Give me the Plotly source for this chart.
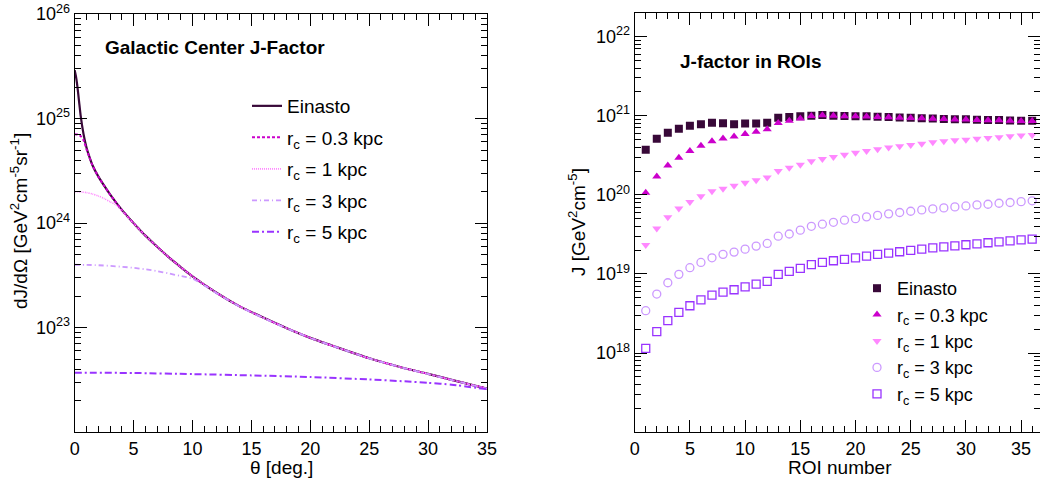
import plotly.graph_objects as go

# ---------------- data: left panel (dJ/dOmega vs theta) ----------------
theta_einasto = [0, 0.1, 0.2, 0.3, 0.4, 0.5, 0.75, 1.0, 1.25, 1.5, 2.0, 2.5, 3.0, 3.5, 4.0,
                 5.0, 6.0, 7.0, 8.0, 9.0, 10, 12, 14, 16, 18, 20, 22, 25, 28, 30, 32, 35]
dj_einasto = [2.9e25, 2.55e25, 2.15e25, 1.72e25, 1.36e25, 1.08e25, 7.1e24, 5.3e24, 4.3e24, 3.6e24,
              2.8e24, 2.28e24, 1.88e24, 1.58e24, 1.34e24, 1.0e24, 7.6e23, 5.95e23, 4.7e23, 3.8e23,
              3.1e23, 2.17e23, 1.6e23, 1.25e23, 9.9e22, 8.0e22, 6.65e22, 5.1e22, 4.1e22,
              3.62e22, 3.17e22, 2.62e22]

theta_rc03 = [0, 0.25, 0.5, 0.75, 1.0, 1.25, 1.5, 2.0, 2.5, 3.0, 3.5, 4.0, 5.0, 6.0, 7.0, 8.0,
              9.0, 10, 12, 14, 16, 18, 20, 22, 25, 28, 30, 32, 35]
dj_rc03 = [7.1e24, 7.05e24, 6.8e24, 6.2e24, 5.1e24, 4.25e24, 3.58e24, 2.79e24, 2.28e24, 1.88e24,
           1.58e24, 1.34e24, 1.0e24, 7.6e23, 5.95e23, 4.7e23, 3.8e23, 3.1e23, 2.17e23, 1.6e23,
           1.25e23, 9.9e22, 8.0e22, 6.65e22, 5.1e22, 4.1e22, 3.62e22, 3.17e22, 2.62e22]

theta_rc1 = [0, 0.5, 1.0, 1.5, 2.0, 2.5, 3.0, 3.5, 4.0, 5.0, 6.0, 7.0, 8.0, 9.0, 10, 12, 14,
             16, 18, 20, 22, 25, 28, 30, 32, 35]
dj_rc1 = [2.0e24, 1.99e24, 1.96e24, 1.9e24, 1.82e24, 1.72e24, 1.6e24, 1.5e24, 1.31e24, 9.9e23,
          7.58e23, 5.94e23, 4.7e23, 3.8e23, 3.1e23, 2.17e23, 1.6e23, 1.25e23, 9.9e22, 8.0e22,
          6.65e22, 5.1e22, 4.1e22, 3.62e22, 3.17e22, 2.62e22]

theta_rc3 = [0, 1, 2, 3, 4, 5, 6, 7, 8, 9, 10, 11, 12, 14, 16, 18, 20, 22, 25, 28, 30, 32, 35]
dj_rc3 = [4.0e23, 3.99e23, 3.96e23, 3.9e23, 3.83e23, 3.74e23, 3.62e23, 3.48e23, 3.3e23, 3.12e23,
          2.95e23, 2.53e23, 2.15e23, 1.59e23, 1.24e23, 9.85e22, 7.97e22, 6.63e22, 5.09e22,
          4.09e22, 3.61e22, 3.16e22, 2.61e22]

theta_rc5 = [0, 5, 10, 15, 20, 25, 28, 30, 32, 35]
dj_rc5 = [3.72e22, 3.69e22, 3.6e22, 3.5e22, 3.38e22, 3.2e22, 3.07e22, 2.97e22, 2.85e22, 2.58e22]

# ---------------- data: right panel (J in ROIs) ----------------
roi = list(range(1, 37))
j_einasto = [3.7e20, 5.1e20, 6.1e20, 6.85e20, 7.45e20, 7.8e20, 8.15e20, 8.0e20, 7.8e20, 7.95e20,
             7.95e20, 8.15e20, 9.4e20, 9.6e20, 9.8e20, 1.0e21, 1.02e21, 1.0e21, 9.9e20, 9.85e20,
             9.8e20, 9.7e20, 9.6e20, 9.5e20, 9.4e20, 9.3e20, 9.2e20, 9.1e20, 9.0e20, 9.0e20,
             8.9e20, 8.8e20, 8.8e20, 8.7e20, 8.6e20, 8.6e20]
j_rc03 = [1.06e20, 1.7e20, 2.35e20, 2.95e20, 3.58e20, 4.17e20, 4.77e20, 5.15e20, 5.45e20, 5.85e20,
          6.25e20, 6.75e20, 8.1e20, 8.6e20, 9.2e20, 9.9e20, 1.01e21, 9.95e20, 9.85e20, 9.8e20,
          9.75e20, 9.65e20, 9.55e20, 9.45e20, 9.35e20, 9.25e20, 9.15e20, 9.05e20, 8.95e20,
          8.95e20, 8.85e20, 8.75e20, 8.75e20, 8.65e20, 8.55e20, 8.55e20]
j_rc1 = [2.33e19, 3.75e19, 5.2e19, 6.7e19, 8.1e19, 9.6e19, 1.11e20, 1.19e20, 1.3e20, 1.42e20,
         1.53e20, 1.65e20, 2.0e20, 2.2e20, 2.4e20, 2.65e20, 2.84e20, 3.0e20, 3.2e20, 3.4e20,
         3.58e20, 3.76e20, 3.95e20, 4.1e20, 4.26e20, 4.43e20, 4.6e20, 4.74e20, 4.88e20, 4.98e20,
         5.13e20, 5.22e20, 5.33e20, 5.48e20, 5.6e20, 5.7e20]
j_rc3 = [3.44e18, 5.58e18, 7.75e18, 9.9e18, 1.2e19, 1.4e19, 1.6e19, 1.77e19, 1.89e19, 2.06e19,
         2.25e19, 2.43e19, 3.0e19, 3.2e19, 3.58e19, 4.0e19, 4.26e19, 4.5e19, 4.78e19, 5.0e19,
         5.27e19, 5.5e19, 5.75e19, 5.98e19, 6.2e19, 6.45e19, 6.64e19, 6.84e19, 7.04e19, 7.24e19,
         7.46e19, 7.6e19, 7.83e19, 8.0e19, 8.2e19, 8.4e19]
j_rc5 = [1.15e18, 1.87e18, 2.58e18, 3.27e18, 3.97e18, 4.72e18, 5.42e18, 5.9e18, 6.32e18, 6.86e18,
         7.46e18, 8.07e18, 9.9e18, 1.08e19, 1.18e19, 1.31e19, 1.4e19, 1.47e19, 1.53e19, 1.6e19,
         1.68e19, 1.77e19, 1.84e19, 1.91e19, 1.99e19, 2.06e19, 2.14e19, 2.2e19, 2.27e19, 2.34e19,
         2.4e19, 2.48e19, 2.55e19, 2.62e19, 2.7e19, 2.75e19]

series_names = ["Einasto", "r<sub>c</sub> = 0.3 kpc", "r<sub>c</sub> = 1 kpc",
                "r<sub>c</sub> = 3 kpc", "r<sub>c</sub> = 5 kpc"]
left_y_ticks = [1e23, 1e24, 1e25, 1e26]
right_y_ticks = [1e18, 1e19, 1e20, 1e21, 1e22]

# ---------------- styling ----------------
W, H = 1040, 479
FONT = "Liberation Sans, Arial, Helvetica, sans-serif"
colors = ["#380838", "#cc00cc", "#ff88ff", "#cc99ff", "#9933ff"]
dashes = ["solid", "3px,2px", "1px,1px", "5px,3px,1px,3px", "7px,3px,2px,3px"]
widths = [2.2, 2, 1.6, 1.8, 2]


def px(x):
    return x / W


def py(y):
    return 1 - y / H


fig = go.Figure()

left_x = [theta_einasto, theta_rc03, theta_rc1, theta_rc3, theta_rc5]
left_y = [dj_einasto, dj_rc03, dj_rc1, dj_rc3, dj_rc5]
for i in range(5):
    fig.add_trace(go.Scatter(
        x=left_x[i], y=left_y[i], mode="lines", name=series_names[i],
        line=dict(color=colors[i], width=widths[i], dash=dashes[i], shape="spline", smoothing=0.6),
        xaxis="x", yaxis="y", legend="legend", legendgroup="l%d" % i,
    ))

right_y = [j_einasto, j_rc03, j_rc1, j_rc3, j_rc5]
symbols = ["square", "triangle-up", "triangle-down", "circle-open", "square-open"]
msizes = [8, 8, 8, 8, 8]
for i in range(5):
    fig.add_trace(go.Scatter(
        x=roi, y=right_y[i], mode="markers", name=series_names[i],
        marker=dict(color=colors[i], size=msizes[i], symbol=symbols[i],
                    line=dict(color=colors[i], width=1.3 if "open" in symbols[i] else 0)),
        xaxis="x2", yaxis="y2", legend="legend2",
    ))


def minor_log(lo, hi):
    vals = []
    for e in range(lo, hi):
        for k in range(2, 10):
            vals.append(k * 10.0 ** e)
    return vals


axis_common = dict(showline=True, linecolor="black", linewidth=1, mirror="ticks",
                   ticks="inside", ticklen=12, tickwidth=1, tickcolor="black",
                   showgrid=False, zeroline=False, automargin=False,
                   tickfont=dict(family=FONT, size=18, color="black"))

x1_dom = [px(74.7), px(487)]
x2_dom = [px(634.7), 1.0]
y_dom = [py(432.3), py(14)]
y2_dom = [py(432.3), py(12.7)]

fig.update_layout(
    template="none",
    width=W, height=H, autosize=False,
    margin=dict(l=0, r=0, t=0, b=0, pad=0),
    paper_bgcolor="white", plot_bgcolor="white",
    font=dict(family=FONT, size=18, color="black"),
    xaxis=dict(domain=x1_dom, range=[0, 35], anchor="y", tickmode="array",
               tickvals=[0, 5, 10, 15, 20, 25, 30, 35],
               minor=dict(ticks="inside", ticklen=6, tickcolor="black", dtick=1, tick0=0,
                          showgrid=False),
               **axis_common),
    yaxis=dict(domain=y_dom, type="log", range=[22, 26], anchor="x", tickmode="array",
               tickvals=left_y_ticks,
               ticktext=["10<sup>%d</sup>" % e for e in (23, 24, 25, 26)],
               minor=dict(ticks="inside", ticklen=6, tickcolor="black", tickmode="array",
                          tickvals=minor_log(22, 26), showgrid=False),
               **axis_common),
    xaxis2=dict(domain=x2_dom, range=[0, 36.71], anchor="y2", tickmode="array",
                tickvals=[0, 5, 10, 15, 20, 25, 30, 35],
                minor=dict(ticks="inside", ticklen=6, tickcolor="black", dtick=1, tick0=0,
                           showgrid=False),
                **axis_common),
    yaxis2=dict(domain=y2_dom, type="log", range=[17, 22.301], anchor="x2", tickmode="array",
                tickvals=right_y_ticks,
                ticktext=["10<sup>%d</sup>" % e for e in (18, 19, 20, 21, 22)],
                minor=dict(ticks="inside", ticklen=6, tickcolor="black", tickmode="array",
                           tickvals=minor_log(17, 22), showgrid=False),
                **axis_common),
    legend=dict(x=px(247), y=py(87), xanchor="left", yanchor="top",
                bgcolor="rgba(0,0,0,0)", borderwidth=0, tracegroupgap=3.8,
                font=dict(family=FONT, size=19, color="black")),
    legend2=dict(x=px(857), y=py(270), xanchor="left", yanchor="top",
                 bgcolor="rgba(0,0,0,0)", borderwidth=0,
                 font=dict(family=FONT, size=18, color="black")),
    showlegend=True,
)

annots = [
    dict(text="<b>Galactic Center J-Factor</b>", x=px(103), y=py(48), xanchor="left",
         yanchor="middle", font=dict(size=19)),
    dict(text="<b>J-factor in ROIs</b>", x=px(678), y=py(62), xanchor="left",
         yanchor="middle", font=dict(size=19)),
    dict(text="θ [deg.]", x=px(281), y=py(467), xanchor="center", yanchor="middle",
         font=dict(size=19)),
    dict(text="ROI number", x=px(840), y=py(467), xanchor="center", yanchor="middle",
         font=dict(size=19)),
    dict(text="dJ/dΩ [GeV<sup>2</sup>cm<sup>-5</sup>sr<sup>-1</sup>]", x=px(19), y=py(221),
         xanchor="center", yanchor="middle", textangle=-90, font=dict(size=19)),
    dict(text="J [GeV<sup>2</sup>cm<sup>-5</sup>]", x=px(577), y=py(222),
         xanchor="center", yanchor="middle", textangle=-90, font=dict(size=19)),
]
for a in annots:
    a.update(xref="paper", yref="paper", showarrow=False)
    a["font"] = dict(family=FONT, color="black", **a["font"])
fig.update_layout(annotations=annots)

fig.write_html(
    "out.html",
    config={"displayModeBar": False},
    post_script="document.body.style.margin='0px';document.body.style.overflow='hidden';",
)
